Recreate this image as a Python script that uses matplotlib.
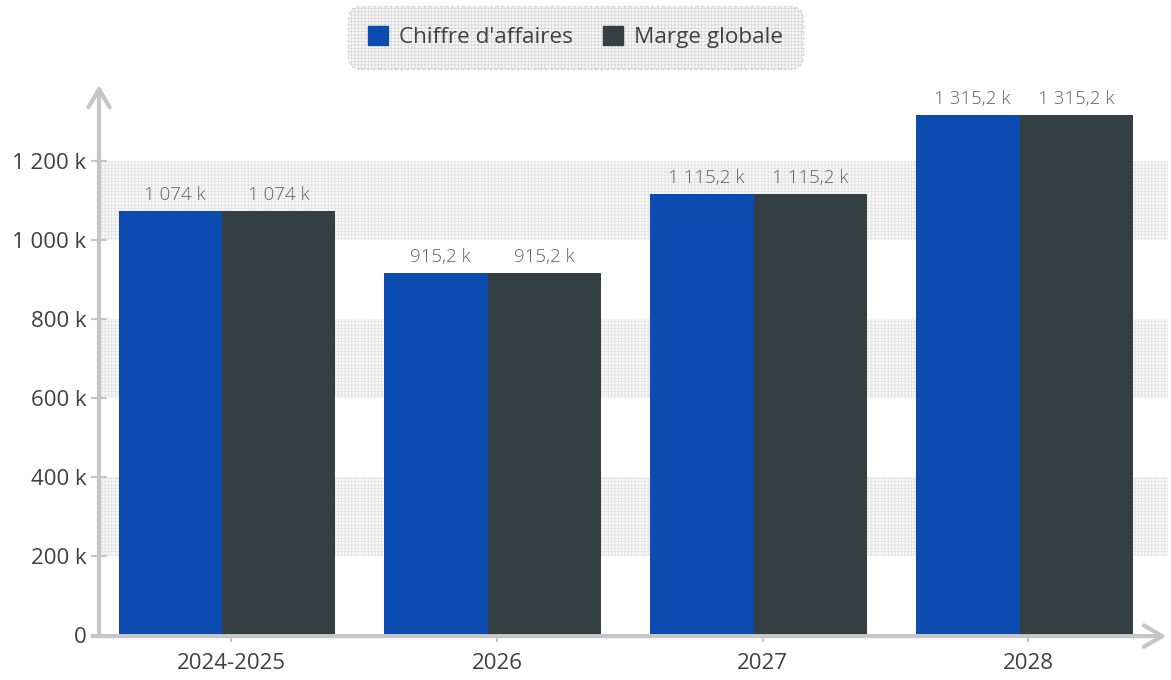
import matplotlib
matplotlib.use("Agg")
import matplotlib.pyplot as plt
from matplotlib.patches import Patch
import numpy as np

# data (values in thousands)
categories = ["2024-2025", "2026", "2027", "2028"]
chiffre_affaires = [1074, 915.2, 1115.2, 1315.2]
marge_globale = [1074, 915.2, 1115.2, 1315.2]
yticks = [0, 200, 400, 600, 800, 1000, 1200]

blue = "#0c4bb0"
dark = "#343f43"
axis_grey = "#c6c6c6"
text_grey = "#404040"


def fr(v):
    # French style numbers: space thousands, comma decimals
    s = f"{v:,.1f}".replace(",", " ").replace(".", ",")
    if s.endswith(",0"):
        s = s[:-2]
    return s


def fr_k(v):
    return "0" if v == 0 else fr(v) + " k"


plt.rcParams["font.family"] = ["Open Sans", "DejaVu Sans"]
plt.rcParams["hatch.linewidth"] = 0.6

fig = plt.figure(figsize=(11.71, 6.8), dpi=100)
ax = fig.add_axes([99 / 1171, 45 / 680, 1069 / 1171, 550 / 680])

x = np.arange(len(categories))
w = 0.425
b1 = ax.bar(x - 0.211, chiffre_affaires, w, color=blue, zorder=3)
b2 = ax.bar(x + 0.179, marge_globale, w, color=dark, zorder=4)
for bars in (b1, b2):
    ax.bar_label(bars, labels=[fr_k(v) for v in bars.datavalues], padding=5,
                 fontsize=13.5, color="#606060", fontweight="light", zorder=5)

# hatched alternating bands
for lo in (200, 600, 1000):
    ax.axhspan(lo, lo + 200, facecolor="#f8f8f8", edgecolor="#e4e4e4",
               hatch="+++++", lw=0, zorder=1)

ax.set_xlim(-0.497, 3.525)
ax.set_ylim(0, 1392)
ax.set_xticks(x, categories)
ax.set_yticks(yticks, [fr_k(v) for v in yticks])
ax.tick_params(axis="y", direction="inout", length=12, width=1.5, color=axis_grey,
               labelsize=16, labelcolor=text_grey, pad=3)
ax.tick_params(axis="x", direction="inout", length=10, width=1.5, color=axis_grey,
               labelsize=16, labelcolor=text_grey, pad=8)

for s in ax.spines.values():
    s.set_visible(False)

# axis arrows
arrow = dict(arrowstyle="->,head_length=0.6,head_width=0.35", lw=3,
             color=axis_grey, mutation_scale=22, shrinkA=0, shrinkB=0)
ax.annotate("", xy=(0, 1.0), xytext=(0, -0.002), xycoords="axes fraction",
            arrowprops=arrow, zorder=6, annotation_clip=False)
ax.annotate("", xy=(0.9985, -0.002), xytext=(-0.006, -0.002), xycoords="axes fraction",
            arrowprops=arrow, zorder=6, annotation_clip=False)

handles = [Patch(color=blue, label="Chiffre d'affaires"),
           Patch(color=dark, label="Marge globale")]
leg = fig.legend(handles=handles, loc="center", bbox_to_anchor=(0.4915, 0.945),
                 ncol=2, fontsize=16.2, frameon=True, fancybox=True,
                 handlelength=0.9, handleheight=0.9, handletextpad=0.5,
                 columnspacing=1.3, borderpad=0.9, labelcolor=text_grey)
frame = leg.get_frame()
frame.set_boxstyle("round", pad=0, rounding_size=0.6)
frame.set_facecolor("#f8f8f8")
frame.set_edgecolor("#d0d0d0")
frame.set_linestyle((0, (2, 2)))
frame.set_linewidth(1)
frame.set_hatch("+++++")

fig.savefig("out.png", dpi=100)
